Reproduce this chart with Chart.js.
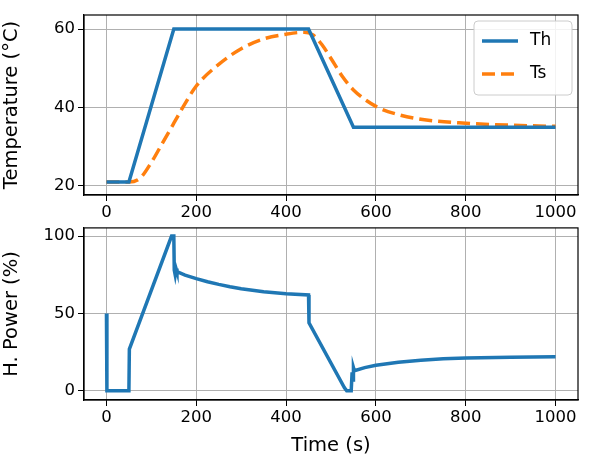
<!DOCTYPE html>
<html><head><meta charset="utf-8">
<script src="https://cdn.jsdelivr.net/npm/chart.js@4"></script>
<style>body{margin:0;background:#fff;width:591px;height:458px;position:relative;overflow:hidden}
canvas{position:absolute;left:0}</style></head><body>
<div style="position:absolute;left:0;top:0;width:591px;height:230px"><canvas id="c1"></canvas></div>
<div style="position:absolute;left:0;top:215px;width:591px;height:243px"><canvas id="c2"></canvas></div>
<script>
const thTime=[0,50,150,450,550,1000];
const thVals=[21,21,60,60,35,35];
const tsTime=[0,50,75,100,125,150,175,200,250,300,350,400,440,460,480,500,525,550,600,650,700,800,900,1000];
const tsVals=[21,21,22,26,31,36,41,45.5,51,55,57.5,58.7,59.2,58.5,56,52.5,48,44.5,40.3,38.2,37,36,35.5,35.2];
const pTime=[0,1,50,51,145,150,151,153,155,157,175,200,225,250,275,300,350,400,450,451,530,535,545,547,549,550,552,575,600,650,700,750,800,900,1000];
const pVals=[50,0,0,27,100,100,78,75,79,77,74.8,72.5,70.5,68.8,67.3,66,64,62.8,62,44,2,0,0,12,7,15,13,15,16.5,18.5,19.8,20.7,21.3,21.8,22];
const xTicks=[0,200,400,600,800,1000];
const tTicks=[20,40,60];
const pTicks=[0,50,100];
const pts=(xs,ys)=>xs.map((x,i)=>({x,y:ys[i]}));
const F='DejaVu Sans';
Chart.defaults.font.family=F;Chart.defaults.color='#000';
function axes(ymin,ymax,yt,ytitle,xtitle,xh){
 const g={color:'#b0b0b0',lineWidth:1,tickLength:6,tickColor:'#000'};
 return {
  x:{type:'linear',min:-50,max:1050,grid:g,border:{color:'#000',width:1.2},
     afterBuildTicks:a=>{a.ticks=xTicks.map(v=>({value:v}))},
     ticks:{font:{size:16.5},maxRotation:0,padding:2,callback:v=>String(v)},
     title:{display:!!xtitle,text:xtitle,font:{size:19.5},padding:{top:0,bottom:0}},
     afterFit:a=>{a.height=xh}},
  y:{min:ymin,max:ymax,grid:g,border:{color:'#000',width:1.2},
     afterBuildTicks:a=>{a.ticks=yt.map(v=>({value:v}))},
     ticks:{font:{size:16.5},padding:3,callback:v=>String(v)},
     title:{display:true,text:ytitle,font:{size:19.5},padding:{bottom:0,top:0}},
     afterFit:a=>{a.width=84}},
 };
}
const frame={id:'frame',afterDraw(c){const a=c.chartArea,x=c.ctx;x.save();x.strokeStyle='#000';x.lineWidth=1.2;x.strokeRect(a.left,a.top,a.right-a.left,a.bottom-a.top);x.restore();}};
const leg={id:'leg',afterDraw(c){const x=c.ctx,a=c.chartArea;const L=a.right-104,T=a.top+6,W=98,H=74;
 x.save();x.fillStyle='rgba(255,255,255,0.85)';x.strokeStyle='#ccc';x.lineWidth=1;
 x.beginPath();x.roundRect(L,T,W,H,4);x.fill();x.stroke();
 c.data.datasets.forEach((d,i)=>{const y=T+20+i*33;x.strokeStyle=d.borderColor;x.lineWidth=3.5;x.setLineDash(d.borderDash||[]);
  x.beginPath();x.moveTo(L+8,y);x.lineTo(L+44,y);x.stroke();x.setLineDash([]);
  x.fillStyle='#000';x.font='17px '+F;x.textBaseline='middle';x.fillText(d.label,L+56,y);});
 x.restore();}};
const common={responsive:true,maintainAspectRatio:false,animation:false,
 plugins:{legend:{display:false},tooltip:{enabled:false}},elements:{point:{radius:0}}};
new Chart(document.getElementById('c1'),{type:'line',
 data:{datasets:[
  {label:'Th',data:pts(thTime,thVals),borderColor:'#1f77b4',borderWidth:3.5,tension:0},
  {label:'Ts',data:pts(tsTime,tsVals),borderColor:'#ff7f0e',borderWidth:3.5,borderDash:[13,6],cubicInterpolationMode:'monotone'}]},
 options:{...common,layout:{padding:{top:15,right:13,left:0,bottom:0}},scales:axes(17.7,63.6,tTicks,'Temperature (°C)','',35)},
 plugins:[frame,leg]});
new Chart(document.getElementById('c2'),{type:'line',
 data:{datasets:[{label:'P',data:pts(pTime,pVals),borderColor:'#1f77b4',borderWidth:3.5,tension:0}]},
 options:{...common,layout:{padding:{top:8,right:13,left:0,bottom:0}},scales:axes(-5.9,105.3,pTicks,'H. Power (%)','Time (s)',58)},
 plugins:[frame]});
</script></body></html>
